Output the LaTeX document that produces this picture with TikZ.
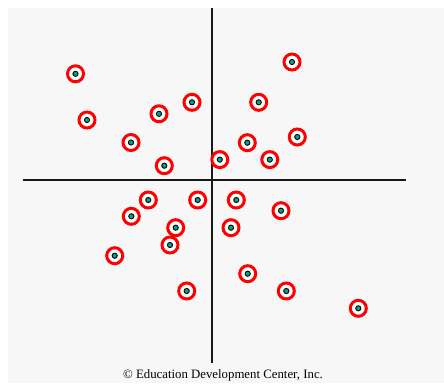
\documentclass[tikz,border=0pt]{standalone}
\usepackage{fontspec}
\setmainfont{Liberation Serif}
\definecolor{bggray}{RGB}{247,247,247}
\definecolor{dotgreen}{RGB}{0,165,130}
\definecolor{axisgray}{RGB}{25,25,25}
\tikzset{
    pt/.style={circle,draw=red,line width=3pt,minimum size=16pt,inner sep=0pt,fill=white,
        path picture={\filldraw[fill=dotgreen,draw=black,line width=0.9pt] (path picture bounding box.center) circle (2.6pt);}},
    axis/.style={draw=axisgray,line width=2pt}
}
\begin{document}
\begin{tikzpicture}[x=1pt,y=-1pt]
    \useasboundingbox (0,0) rectangle (444,383);
    \fill[bggray] (8,8) rectangle (444,383);
    
    % axes
    \coordinate (T) at (211.5,8);
    \coordinate (B) at (211.5,363);
    \coordinate (L) at (22.5,180.3);
    \coordinate (R) at (405.5,180.3);
    \draw[axis] (T) -- (B);
    \draw[axis] (L) -- (R);
    
    % points
    \node[pt] (P1) at (75.5,73.8){};
    \node[pt] (P2) at (292,62){};
    \node[pt] (P3) at (87,120){};
    \node[pt] (P4) at (159,113.8){};
    \node[pt] (P5) at (192,102.3){};
    \node[pt] (P6) at (258.7,102.3){};
    \node[pt] (P7) at (131,142.5){};
    \node[pt] (P8) at (247.3,142.7){};
    \node[pt] (P9) at (297.3,137){};
    \node[pt] (P10) at (164.3,165.7){};
    \node[pt] (P11) at (219.8,159.6){};
    \node[pt] (P12) at (269.8,159.6){};
    \node[pt] (P13) at (148.3,200){};
    \node[pt] (P14) at (197.7,200){};
    \node[pt] (P15) at (236.3,200){};
    \node[pt] (P16) at (131.3,216.3){};
    \node[pt] (P17) at (281,210.7){};
    \node[pt] (P18) at (175.7,227.7){};
    \node[pt] (P19) at (231,227.7){};
    \node[pt] (P20) at (170,245){};
    \node[pt] (P21) at (114.7,255.7){};
    \node[pt] (P22) at (247.7,273.7){};
    \node[pt] (P23) at (186.7,291){};
    \node[pt] (P24) at (286.3,291){};
    \node[pt] (P25) at (358.3,308.3){};
    
    \node (C) at (223,375){\fontsize{12.8}{14}\selectfont \textcopyright{} Education Development Center, Inc.};
    
\end{tikzpicture}
\end{document}
